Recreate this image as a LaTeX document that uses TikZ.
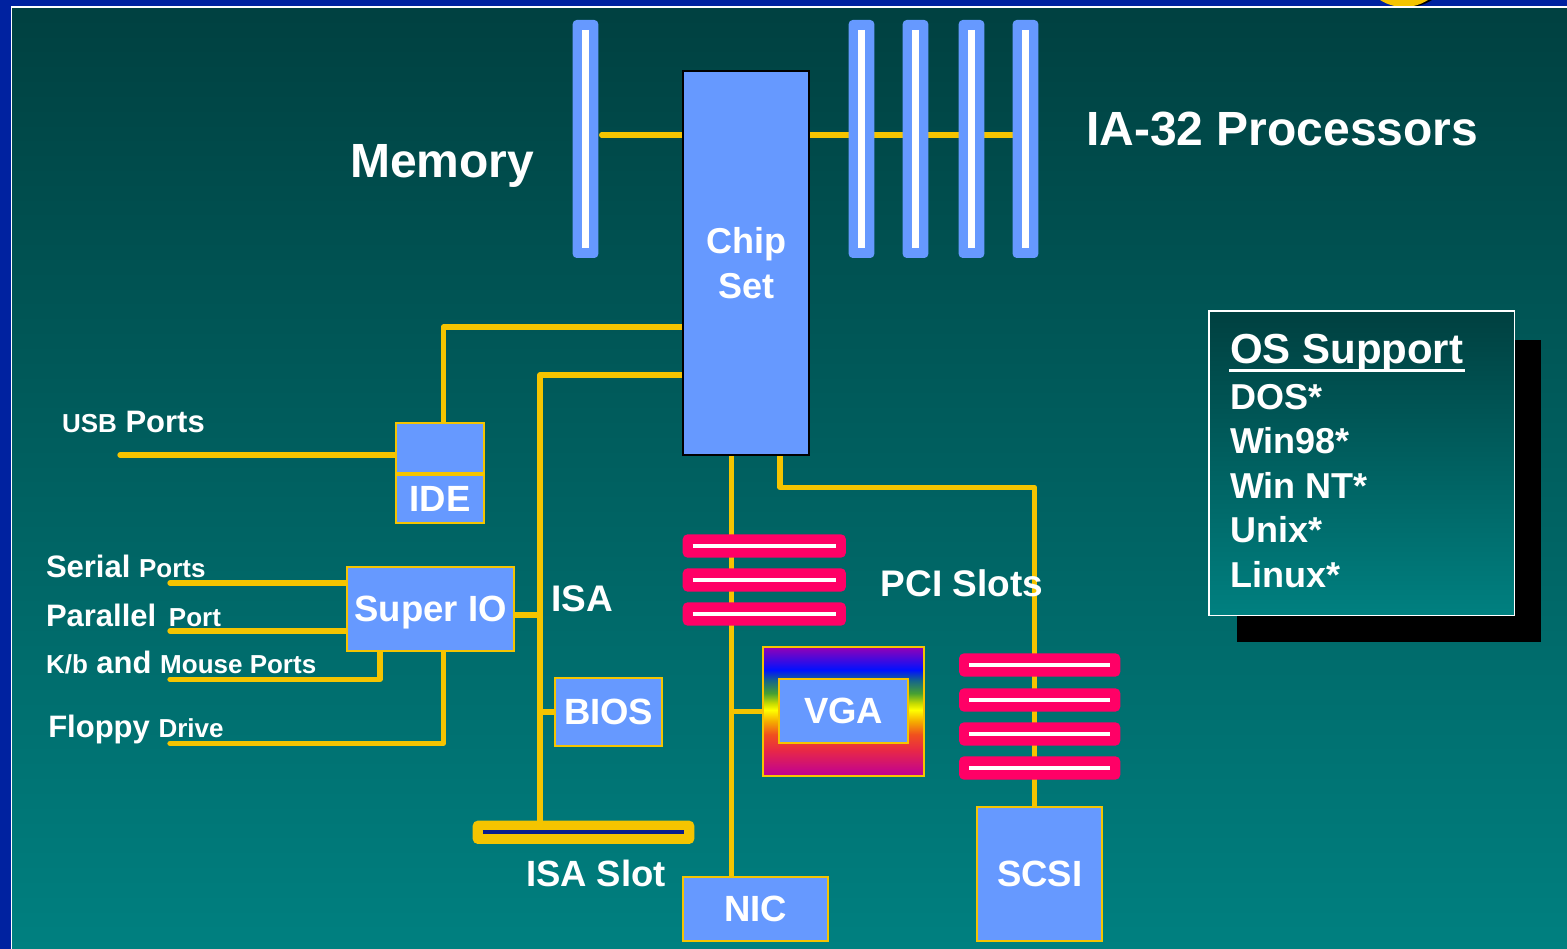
\documentclass[tikz,border=0pt]{standalone}
\usepackage{fontspec}
\setmainfont{Liberation Sans}
\definecolor{bgtop}{HTML}{004040}
\definecolor{bgbot}{HTML}{008080}
\definecolor{frameblue}{HTML}{0022A0}
\definecolor{slotblue}{HTML}{6699FF}
\definecolor{busy}{HTML}{F5C400}
\definecolor{slotpink}{HTML}{FF0066}
\definecolor{isanavy}{HTML}{0A1E8C}
\definecolor{vgaTop}{RGB}{150,0,180}
\definecolor{vgaB}{RGB}{0,17,255}
\definecolor{vgaT}{RGB}{20,100,140}
\definecolor{vgaG}{RGB}{70,160,50}
\definecolor{vgaYG}{RGB}{200,220,0}
\definecolor{vgaY}{RGB}{255,255,0}
\definecolor{vgaO}{RGB}{245,170,0}
\definecolor{vgaOR}{RGB}{240,80,30}
\definecolor{vgaR}{RGB}{232,40,70}
\definecolor{vgaBot}{RGB}{190,0,150}
\pgfdeclareverticalshading{rainbow}{100bp}{color(0bp)=(vgaBot); color(25bp)=(vgaBot); color(35bp)=(vgaR); color(41bp)=(vgaOR); color(46bp)=(vgaO); color(50.5bp)=(vgaY); color(53bp)=(vgaYG); color(57bp)=(vgaG); color(62bp)=(vgaT); color(66bp)=(vgaB); color(75bp)=(vgaTop); color(100bp)=(vgaTop)}
\pgfdeclarelayer{back}
\pgfdeclarelayer{wires}
\pgfsetlayers{back,wires,main}
\newcommand\labsmall{\fontsize{26}{30}\selectfont}
\newcommand\labbig{\fontsize{31}{36}\selectfont}
\tikzset{
  box/.style={draw=busy, line width=1.8pt, fill=slotblue, inner sep=0pt, outer sep=0pt,
    text=white, font=\bfseries\fontsize{36.5}{44}\selectfont, text depth=0pt},
  bus/.style={draw=busy, line width=5.3pt, line join=round},
  vslot/.style={fill=slotblue, rounded corners=4pt, minimum width=25.6pt, minimum height=238pt,
    inner sep=0pt, outer sep=0pt,
    path picture={\draw[white,line width=6.3pt] ([yshift=-10pt]path picture bounding box.north) -- ([yshift=10pt]path picture bounding box.south);}},
  hslot/.style={fill=slotpink, rounded corners=5pt, minimum height=23.4pt,
    inner sep=0pt, outer sep=0pt,
    path picture={\draw[white,line width=4.2pt] ([xshift=10pt]path picture bounding box.west) -- ([xshift=-10pt]path picture bounding box.east);}},
  isaslotbox/.style={fill=busy, rounded corners=5pt, minimum width=221.6pt, minimum height=23.3pt,
    inner sep=0pt, outer sep=0pt,
    path picture={\draw[isanavy,line width=4.2pt] ([xshift=10pt]path picture bounding box.west) -- ([xshift=-10pt]path picture bounding box.east);}},
  lbl/.style={text=white, font=\bfseries\fontsize{37}{44}\selectfont, inner sep=0pt, outer sep=0pt, anchor=base west},
  portlbl/.style={text=white, font=\bfseries\labbig, inner sep=0pt, outer sep=0pt, anchor=base west},
  oslbl/.style={text=white, font=\bfseries\fontsize{36}{44}\selectfont, inner sep=0pt, outer sep=0pt, anchor=base west},
}
\begin{document}
\begin{tikzpicture}[x=1pt,y=-1pt]
\useasboundingbox (0,0) rectangle (1567,949);
\begin{pgfonlayer}{back}
  \shade[top color=bgtop,bottom color=bgbot] (0,0) rectangle (1567,949);
  \fill[frameblue] (0,0) rectangle (1567,6.5);
  \fill[frameblue] (0,0) rectangle (10.5,949);
  \begin{scope}
    \clip (1300,0) rectangle (1500,6.5);
    \fill[black] (1408,-37.6) circle[radius=44.6];
    \fill[busy] (1404,-37.6) circle[radius=44.6];
  \end{scope}
  \draw[white,line width=1.4pt] (11.2,949) -- (11.2,7.2) -- (1567,7.2);
\end{pgfonlayer}

% coordinates for bus tracks
\coordinate (memy) at (0,135);
\coordinate (idey) at (0,327);
\coordinate (idex) at (443.3,0);
\coordinate (isay) at (0,375);
\coordinate (isax) at (540,0);
\coordinate (siy) at (0,615);
\coordinate (nicx) at (731.7,0);
\coordinate (scsiax) at (780,0);
\coordinate (scsiy) at (0,487.3);
\coordinate (scsix) at (1034.7,0);
\coordinate (kbx) at (380,0);
\coordinate (flx) at (443.3,0);
\coordinate (usbend) at (120,455);
\coordinate (serend) at (170,583);
\coordinate (parend) at (170,631);
\coordinate (kbend) at (170,679.3);
\coordinate (flend) at (170,743.3);

% memory and processor slots
\node[vslot] (m1) at (585.5,139) {};
\node[vslot] (p1) at (861.5,139) {};
\node[vslot] (p2) at (915.5,139) {};
\node[vslot] (p3) at (971.5,139) {};
\node[vslot] (p4) at (1025.5,139) {};

% chip set
\node[box, draw=black, line width=2pt, minimum width=126pt, minimum height=384pt, align=center,
      font=\bfseries\fontsize{36}{45}\selectfont] (chip) at (746.3,263) {Chip\\Set};

% IDE
\node[box, minimum width=88.3pt, minimum height=50pt] (ideu) at (440,448.3) {};
\node[box, minimum width=88.3pt, minimum height=48pt] (ide) at (440,499.3) {IDE};

% Super IO, BIOS, ISA slot, NIC
\node[box, minimum width=166.7pt, minimum height=83.4pt] (superio) at (430.7,609) {Super IO};
\node[box, minimum width=107.3pt, minimum height=67.4pt] (bios) at (608.7,712) {BIOS};
\node[isaslotbox] (isaslot) at (583.5,832.3) {};
\node[box, minimum width=144.4pt, minimum height=64pt] (nic) at (755.5,908.7) {NIC};

% PCI slots
\node[hslot, minimum width=163.3pt] (pci1) at (764.3,546) {};
\node[hslot, minimum width=163.3pt] (pci2) at (764.3,580) {};
\node[hslot, minimum width=163.3pt] (pci3) at (764.3,614) {};

% VGA
\node[draw=busy, line width=1.8pt, shade, shading=rainbow, minimum width=161pt, minimum height=129pt,
      inner sep=0pt, outer sep=0pt] (vga) at (843.8,711.2) {};
\node[box, minimum width=129.3pt, minimum height=63.7pt] (vgain) at (843.7,710.8) {VGA};

% SCSI slots and box
\node[hslot, minimum width=161.3pt] (s1) at (1039.7,665) {};
\node[hslot, minimum width=161.3pt] (s2) at (1039.7,700) {};
\node[hslot, minimum width=161.3pt] (s3) at (1039.7,734) {};
\node[hslot, minimum width=161.3pt] (s4) at (1039.7,768) {};
\node[box, minimum width=125pt, minimum height=134.3pt] (scsi) at (1039.8,873.8) {SCSI};

% OS support box
\fill[black] (1236.7,340) rectangle (1541,641.7);
\node[draw=white, line width=1.5pt, top color=bgtop, bottom color=bgbot, minimum width=305.3pt,
      minimum height=304.7pt, inner sep=0pt, outer sep=0pt] (osbox) at (1361.65,463.35) {};
\node[text=white, font=\bfseries\fontsize{42}{48}\selectfont, inner sep=0pt, outer sep=0pt, anchor=base west] (osh) at (1230,364) {OS Support};
\draw[white, line width=3pt] ([yshift=-6.5pt,xshift=-1pt]osh.base west) -- ([yshift=-6.5pt,xshift=2pt]osh.base east);
\node[oslbl] (os1) at (1230,409.3) {DOS*};
\node[oslbl] (os2) at (1230,453.3) {Win98*};
\node[oslbl] (os3) at (1230,499) {Win NT*};
\node[oslbl] (os4) at (1230,542.7) {Unix*};
\node[oslbl] (os5) at (1230,587.3) {Linux*};

% titles and labels
\node[text=white, font=\bfseries\fontsize{48}{56}\selectfont, inner sep=0pt, anchor=base west] (memlbl) at (350,178) {Memory};
\node[text=white, font=\bfseries\fontsize{48}{56}\selectfont, inner sep=0pt, anchor=base west] (proclbl) at (1086,146) {IA-32 Processors};
\node[lbl] (isalbl) at (551.7,611.7) {ISA};
\node[lbl, font=\bfseries\fontsize{36.5}{44}\selectfont] (isaslbl) at (526,886) {ISA Slot};
\node[lbl] (pcilbl) at (880.7,596.7) {PCI Slots};
\node[portlbl] (usblbl) at (62,433) {{\labsmall USB} Ports};
\node[portlbl] (serlbl) at (46,577) {Serial {\labsmall Ports}};
\node[portlbl] (parlbl) at (46,626) {Parallel\hspace{4pt} {\labsmall Port}};
\node[portlbl] (kblbl) at (46,673.3) {{\labsmall K/b} and {\labsmall Mouse Ports}};
\node[portlbl] (fllbl) at (48.3,737) {Floppy {\labsmall Drive}};

% bus wires
\begin{pgfonlayer}{wires}
  \draw[bus, line cap=round, shorten <=3.4pt] (m1.east |- memy) -- (chip.west |- memy);
  \draw[bus] (chip.east |- memy) -- (p4.west |- memy);
  \draw[bus] (chip.west |- idey) -| (idex |- ideu.north);
  \draw[bus] (chip.west |- isay) -| (isax |- isaslot.north);
  \draw[bus, line cap=round] (usbend) -- (ideu.west |- usbend);
  \draw[bus, line cap=round] (serend) -- (superio.west |- serend);
  \draw[bus, line cap=round] (parend) -- (superio.west |- parend);
  \draw[bus, line cap=round] (kbend) -| (kbx |- superio.south);
  \draw[bus, line cap=round] (flend) -| (flx |- superio.south);
  \draw[bus] (superio.east |- siy) -- (isax |- siy);
  \draw[bus] (isax |- bios.west) -- (bios.west);
  \draw[bus] (nicx |- chip.south) -- (nicx |- nic.north);
  \draw[bus] (nicx |- vga.west) -- (vga.west);
  \draw[bus, line cap=round] (scsiax |- chip.south) |- (scsix |- scsiy) -- (scsix |- scsi.north);
\end{pgfonlayer}
\end{tikzpicture}
\end{document}
